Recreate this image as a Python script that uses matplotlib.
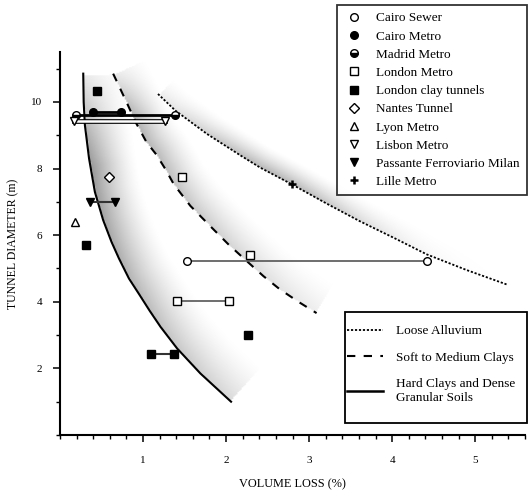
import numpy as np
import matplotlib
matplotlib.use('Agg')
import matplotlib.pyplot as plt
from matplotlib.lines import Line2D
from matplotlib.patches import Rectangle
from matplotlib.ticker import MultipleLocator

plt.rcParams['font.family'] = ['Liberation Serif', 'DejaVu Serif']

# case histories (volume loss %, tunnel diameter m)
cairo_sewer_x = [1.53, 4.42]
cairo_sewer_y = [5.23, 5.23]
cairo_metro_x = [0.40, 0.735]
cairo_metro_y = [9.71, 9.71]
madrid_x = [0.19, 1.39]
madrid_y = [9.62, 9.62]
london_metro_x = [1.47, 2.29, 1.41, 2.04]
london_metro_y = [7.76, 5.39, 4.01, 4.01]
london_clay_x = [0.45, 0.31, 2.26, 1.10, 1.37]
london_clay_y = [10.34, 5.70, 3.01, 2.43, 2.43]
nantes_x = [0.59]
nantes_y = [7.76]
lyon_x = [0.18]
lyon_y = [6.40]
lisbon_x = [0.17, 1.27]
lisbon_y = [9.44, 9.44]
milan_x = [0.36, 0.66]
milan_y = [7.00, 7.00]
lille_x = [2.79]
lille_y = [7.53]

# design curves
hard_x = [0.28, 0.285, 0.30, 0.35, 0.42, 0.52, 0.62, 0.71, 0.83, 0.96, 1.08, 1.21, 1.41, 1.69, 2.06]
hard_y = [10.85, 10.0, 9.3, 8.3, 7.3, 6.45, 5.8, 5.3, 4.7, 4.2, 3.73, 3.25, 2.6, 1.85, 1.0]
soft_x = [0.64, 0.80, 0.92, 1.04, 1.16, 1.27, 1.37, 1.57, 1.81, 2.03, 2.25, 2.45, 2.65, 2.89, 3.09]
soft_y = [10.85, 10.0, 9.35, 8.8, 8.42, 7.98, 7.53, 6.88, 6.27, 5.72, 5.22, 4.77, 4.37, 3.97, 3.66]
loose_x = [1.18, 1.39, 1.77, 2.17, 2.41, 2.79, 3.21, 3.61, 4.02, 4.42, 4.90, 5.38]
loose_y = [10.24, 9.74, 9.04, 8.40, 8.03, 7.53, 6.95, 6.42, 5.92, 5.42, 4.95, 4.52]

XMAX, YMAX = 5.6, 11.5
SX, SY = 83.0, 33.2  # px per data unit, used for the shading distance
W, H = 528, 491

fig = plt.figure(figsize=(W / 100, H / 100), dpi=100)
ax = fig.add_axes([60 / W, 56 / H, 465 / W, 383 / H])


def shade_band(cx, cy, width, fade):
    px = np.asarray(cx) * SX
    py = np.asarray(cy) * SY
    s = np.r_[0, np.cumsum(np.hypot(np.diff(px), np.diff(py)))]
    ss = np.linspace(0, s[-1], 220)
    qx = np.interp(ss, s, px)
    qy = np.interp(ss, s, py)
    gx, gy = np.meshgrid(np.linspace(0, XMAX, 330) * SX, np.linspace(0, YMAX, 330) * SY)
    best = np.full(gx.shape, np.inf)
    idx = np.zeros(gx.shape, dtype=int)
    for i in range(len(qx)):
        d2 = (gx - qx[i]) ** 2 + (gy - qy[i]) ** 2
        m = d2 < best
        best[m] = d2[m]
        idx[m] = i
    d = np.sqrt(best)
    tx = np.gradient(qx)[idx]
    ty = np.gradient(qy)[idx]
    cross = tx * (gy - qy[idx]) - ty * (gx - qx[idx])
    ok = (cross > 0) & (idx > 0) & (idx < len(qx) - 1)
    t = ss[idx] / s[-1]
    val = fade(t) * np.clip(1 - d / width, 0, 1) ** 1.5
    return np.where(ok, val, 0.0)


alpha = np.maximum.reduce([
    shade_band(hard_x, hard_y, 48, lambda t: 0.5 * (1 - 0.7 * t) * np.minimum(1, (t + 0.05) / 0.3)),
    shade_band(soft_x, soft_y, 38, lambda t: 0.36 * (1 - 0.8 * t) * np.minimum(1, (t + 0.05) / 0.2)),
    shade_band(loose_x, loose_y, 24, lambda t: 0.3 * np.exp(-((t - 0.35) / 0.3) ** 2)),
])
rgba = np.zeros(alpha.shape + (4,))
rgba[..., 3] = alpha
ax.imshow(rgba, extent=[0, XMAX, 0, YMAX], origin='lower', aspect='auto',
          interpolation='bilinear', zorder=0)

ax.plot(loose_x, loose_y, color='black', lw=1.3, ls=(0, (1.2, 1.0)), zorder=2)
ax.plot(soft_x, soft_y, color='black', lw=1.5, ls=(0, (4, 4)), zorder=2)
ax.plot(hard_x, hard_y, color='black', lw=1.5, zorder=2)

# connecting lines for ranges
ax.plot(cairo_sewer_x, cairo_sewer_y, color='#555555', lw=1.2, zorder=3)
ax.plot(london_metro_x[2:], london_metro_y[2:], color='#555555', lw=1.2, zorder=3)
ax.plot(london_clay_x[3:], london_clay_y[3:], color='#333333', lw=1.5, zorder=3)
ax.plot(cairo_metro_x, cairo_metro_y, color='black', lw=2, zorder=3)
ax.plot(madrid_x, madrid_y, color='black', lw=2, zorder=3)
ax.plot(lisbon_x, lisbon_y, color='black', lw=3.4, zorder=3)
ax.plot(lisbon_x, lisbon_y, color='white', lw=1.8, zorder=3)
ax.plot(milan_x, milan_y, color='#333333', lw=1.5, zorder=3)

ms = 5.5
styles = [
    ('Cairo Sewer', cairo_sewer_x, cairo_sewer_y, dict(marker='o', mfc='white')),
    ('Cairo Metro', cairo_metro_x, cairo_metro_y, dict(marker='o', mfc='black')),
    ('Madrid Metro', madrid_x, madrid_y, dict(marker='o', mfc='black', fillstyle='bottom', markerfacecoloralt='white')),
    ('London Metro', london_metro_x, london_metro_y, dict(marker='s', mfc='white')),
    ('London clay tunnels', london_clay_x, london_clay_y, dict(marker='s', mfc='black')),
    ('Nantes Tunnel', nantes_x, nantes_y, dict(marker='D', mfc='white', ms=ms - 0.5)),
    ('Lyon Metro', lyon_x, lyon_y, dict(marker='^', mfc='white')),
    ('Lisbon Metro', lisbon_x, lisbon_y, dict(marker='v', mfc='white')),
    ('Passante Ferroviario Milan', milan_x, milan_y, dict(marker='v', mfc='black')),
    ('Lille Metro', lille_x, lille_y, dict(marker='+', mew=1.8)),
]
handles = []
for name, xs, ys, st in styles:
    kw = dict(ls='none', color='black', mec='black', ms=ms, mew=1.0)
    kw.update(st)
    ax.plot(xs, ys, zorder=4, **kw)
    handles.append(Line2D([], [], label=name, **kw))

ax.set_xlim(0, XMAX)
ax.set_ylim(0, YMAX)
ax.xaxis.set_major_locator(MultipleLocator(1))
ax.xaxis.set_minor_locator(MultipleLocator(0.2))
ax.yaxis.set_major_locator(MultipleLocator(2))
ax.yaxis.set_minor_locator(MultipleLocator(1))
ax.set_xticks([1, 2, 3, 4, 5])
ax.set_yticks([2, 4, 6, 8, 10])
ax.tick_params(which='major', direction='out', length=5, width=1.1, labelsize=8)
ax.tick_params(axis='x', which='major', pad=10)
ax.tick_params(axis='y', which='major', pad=8)
ax.tick_params(which='minor', direction='out', length=3, width=1.0)
for sp in ['top', 'right']:
    ax.spines[sp].set_visible(False)
for sp in ['left', 'bottom']:
    ax.spines[sp].set_linewidth(1.5)
ax.set_xlabel('VOLUME LOSS (%)', fontsize=8.8, labelpad=10)
ax.set_ylabel('TUNNEL DIAMETER (m)', fontsize=8.5)
ax.yaxis.set_label_coords(-0.088, 0.5)

leg1 = fig.legend(handles=handles, loc='upper right', bbox_to_anchor=(527 / W, 1 - 5 / H),
                  prop={'size': 9.5}, frameon=True, fancybox=False, edgecolor='black',
                  handlelength=1.5, handletextpad=0.9, labelspacing=0.45, borderpad=0.55,
                  borderaxespad=0)
leg1.get_frame().set_linewidth(1.3)

line_handles = [
    Line2D([], [], color='black', lw=1.3, ls=(0, (1.2, 1.0)), label='Loose Alluvium'),
    Line2D([], [], color='black', lw=1.5, ls=(0, (4, 4)), label='Soft to Medium Clays'),
    Line2D([], [], color='black', lw=1.8, label='Hard Clays and Dense\nGranular Soils'),
]
# frame drawn separately so the padding can differ between sides
fig.patches.append(Rectangle((345 / W, 1 - 423 / H), 182 / W, 111 / H, transform=fig.transFigure,
                             fill=True, facecolor='white', edgecolor='black', lw=1.3, zorder=5))
leg2 = fig.legend(handles=line_handles, loc='upper left', bbox_to_anchor=(347 / W, 1 - 325 / H),
                  prop={'size': 9.5}, frameon=False,
                  handlelength=2.7, handletextpad=1.0, labelspacing=1.1, borderpad=0,
                  borderaxespad=0)
leg2.set_zorder(6)

fig.savefig('out.png', dpi=100)
